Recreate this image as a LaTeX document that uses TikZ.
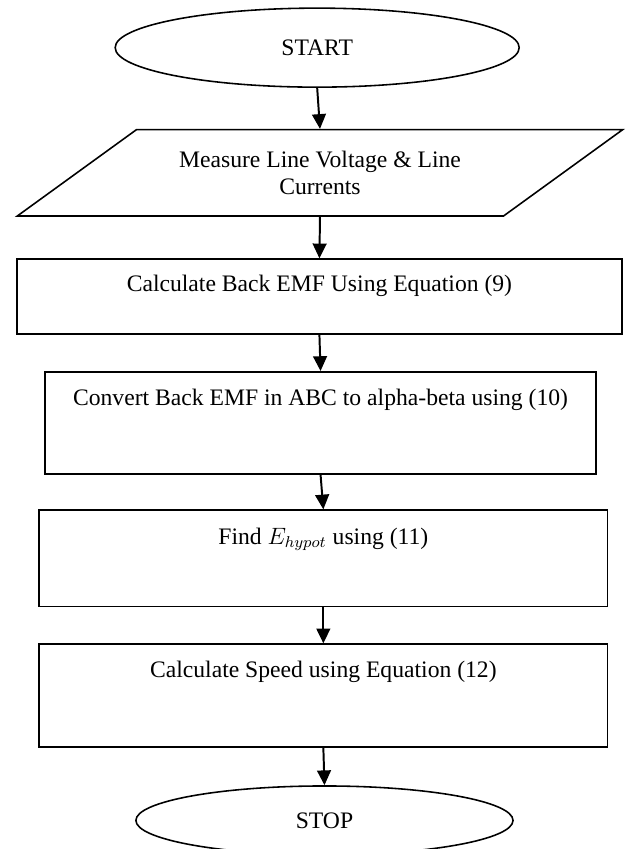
\documentclass[tikz,border=0pt]{standalone}
\usepackage{fontspec}
\setmainfont{Liberation Serif}
\usetikzlibrary{shapes.geometric,arrows.meta}

\begin{document}
\begin{tikzpicture}[
      every node/.style={font=\fontsize{12}{13.5}\selectfont},
      terminal/.style={draw, ellipse, line width=0.8pt, inner sep=0pt},
      stepbox/.style={draw, rectangle, line width=0.8pt, anchor=north, inner ysep=0pt},
      iobox/.style={draw, trapezium, trapezium left angle=30.5, trapezium right angle=149.5,
        trapezium stretches=true, line width=0.8pt, anchor=north, align=center},
      arrow/.style={-{Triangle[length=7.5pt,width=7pt]}, line width=1pt},
    ]
    \useasboundingbox (0,0) rectangle (11.17,-15.15);
    % Start oval
    \node[terminal, minimum width=7.21cm, minimum height=1.41cm] (start) at (5.66,-0.85) {START};
    % Input
    \node[iobox, minimum width=10.82cm, minimum height=1.54cm] (measure) at (5.71,-2.30)
      {Measure Line Voltage \& Line\\Currents};
    % Process boxes (text sits near the top edge)
    \node[stepbox, minimum width=10.80cm, text height=0.57cm, text depth=0.77cm] (backemf) at (5.70,-4.61)
      {Calculate Back EMF Using Equation (9)};
    \node[stepbox, minimum width=9.84cm, text height=0.61cm, text depth=1.21cm] (alphabeta) at (5.72,-6.62)
      {Convert Back EMF in ABC to alpha-beta using (10)};
    \node[stepbox, minimum width=10.14cm, text height=0.61cm, text depth=1.11cm] (hypot) at (5.77,-9.09)
      {Find $E_{hypot}$ using (11)};
    \node[stepbox, minimum width=10.14cm, text height=0.59cm, text depth=1.25cm] (speed) at (5.77,-11.48)
      {Calculate Speed using Equation (12)};
    % Stop oval, runs off the bottom edge
    \node[terminal, minimum width=6.73cm, minimum height=1.23cm] (stop) at (5.79,-14.64) {STOP};
    % Flow
    \foreach \a/\b in {start/measure, measure/backemf, backemf/alphabeta,
      alphabeta/hypot, hypot/speed, speed/stop}
      \draw[arrow] (\a.south) -- (\b.north);
\end{tikzpicture}
\end{document}
